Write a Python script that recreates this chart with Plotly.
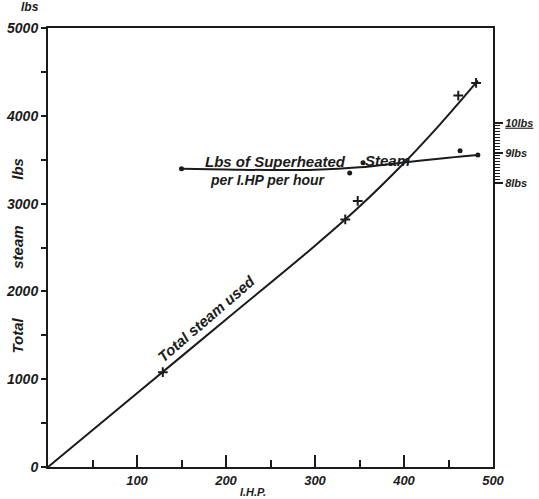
import plotly.graph_objects as go

# Total steam used (lbs) against indicated horse power
ihp_curve = [0, 100, 200, 300, 350, 400, 440, 483]
steam_curve = [0, 840, 1680, 2520, 2966, 3462, 3897, 4400]
ihp_obs = [129, 334, 348, 461, 481]
steam_obs = [1080, 2820, 3030, 4230, 4375]

# Lbs of superheated steam per I.H.P. per hour
ihp_rate_curve = [150, 200, 250, 300, 350, 400, 450, 483]
rate_curve = [8.47, 8.45, 8.43, 8.44, 8.52, 8.68, 8.84, 8.93]
ihp_rate_obs = [150, 339, 354, 463, 483]
rate_obs = [8.47, 8.33, 8.67, 9.07, 8.93]

x_ticks = [100, 200, 300, 400, 500]
x_minor = [50, 150, 250, 350, 450]
y_ticks = [0, 1000, 2000, 3000, 4000, 5000]
y_minor = [500, 1500, 2500, 3500, 4500]
rate_ticks = [8, 9, 10]
rate_labels = ["8lbs", "9lbs", "<u>10lbs</u>"]

INK = "#1b1b1b"
FAM = "Liberation Sans"


def hand(size):
    return dict(family=FAM, size=size, color=INK, style="italic", weight="bold")


fig = go.Figure()

fig.add_trace(go.Scatter(
    x=ihp_curve, y=steam_curve, mode="lines",
    line=dict(color=INK, width=2, shape="spline"), showlegend=False))
fig.add_trace(go.Scatter(
    x=ihp_obs, y=steam_obs, mode="markers",
    marker=dict(symbol="cross-thin", size=7, line=dict(color=INK, width=2)),
    showlegend=False))

fig.add_trace(go.Scatter(
    x=ihp_rate_curve, y=rate_curve, mode="lines", yaxis="y2",
    line=dict(color=INK, width=2, shape="spline"), showlegend=False))
fig.add_trace(go.Scatter(
    x=ihp_rate_obs, y=rate_obs, mode="markers", yaxis="y2",
    marker=dict(symbol="circle", size=5, color=INK), showlegend=False))

fig.update_layout(
    width=539, height=499,
    margin=dict(l=48, r=46, t=28, b=32),
    paper_bgcolor="white", plot_bgcolor="rgba(0,0,0,0)",
    xaxis=dict(
        range=[0, 500], showgrid=False, zeroline=False, automargin=False,
        showline=True, linecolor=INK, linewidth=2, mirror=True,
        ticks="inside", ticklen=12, tickwidth=2, tickcolor=INK,
        tickvals=x_ticks, ticktext=[str(v) for v in x_ticks],
        tickfont=hand(13),
        minor=dict(tickvals=x_minor, ticks="inside", ticklen=7,
                   tickwidth=2, tickcolor=INK),
    ),
    yaxis=dict(
        range=[0, 5000], showgrid=False, zeroline=False, automargin=False,
        showline=True, linecolor=INK, linewidth=2, mirror=True,
        ticks="outside", ticklen=5, tickwidth=2, tickcolor=INK,
        tickvals=y_ticks, ticktext=[str(v) for v in y_ticks],
        tickfont=hand(14),
        minor=dict(tickvals=y_minor, ticks="outside", ticklen=5,
                   tickwidth=2, tickcolor=INK),
    ),
    yaxis2=dict(
        domain=[0.647, 0.784], range=[8, 10], anchor="x", side="right",
        showgrid=False, zeroline=False, showline=True, automargin=False,
        linecolor=INK, linewidth=2,
        ticks="outside", ticklen=8, tickwidth=1.5, tickcolor=INK,
        tickvals=rate_ticks, ticktext=rate_labels,
        tickfont=hand(11),
        minor=dict(dtick=0.1, ticks="outside", ticklen=5,
                   tickwidth=1, tickcolor=INK),
    ),
)


def note(text, x, y, xref="paper", yref="paper", size=14, angle=0):
    return dict(text=text, x=x, y=y, xref=xref, yref=yref,
                xanchor="center", yanchor="middle", textangle=angle,
                showarrow=False, font=hand(size))


annotations = [
    note("lbs", -0.04, 1.047, size=12),
    note("Total", -0.069, 0.30, size=15, angle=-90),
    note("steam", -0.069, 0.50, size=15, angle=-90),
    note("lbs", -0.069, 0.68, size=15, angle=-90),
    note("I.H.P.", 230, -0.057, xref="x", size=11),
    note("Total steam used", 178, 1690, xref="x", yref="y", size=15, angle=-41),
    note("Lbs of Superheated", 256, 8.71, xref="x", yref="y2", size=15),
    note("Steam", 382, 8.74, xref="x", yref="y2", size=15),
    note("per I.HP per hour", 247, 8.1, xref="x", yref="y2", size=14),
]
fig.update_layout(annotations=annotations)

fig.write_html("out.html")
